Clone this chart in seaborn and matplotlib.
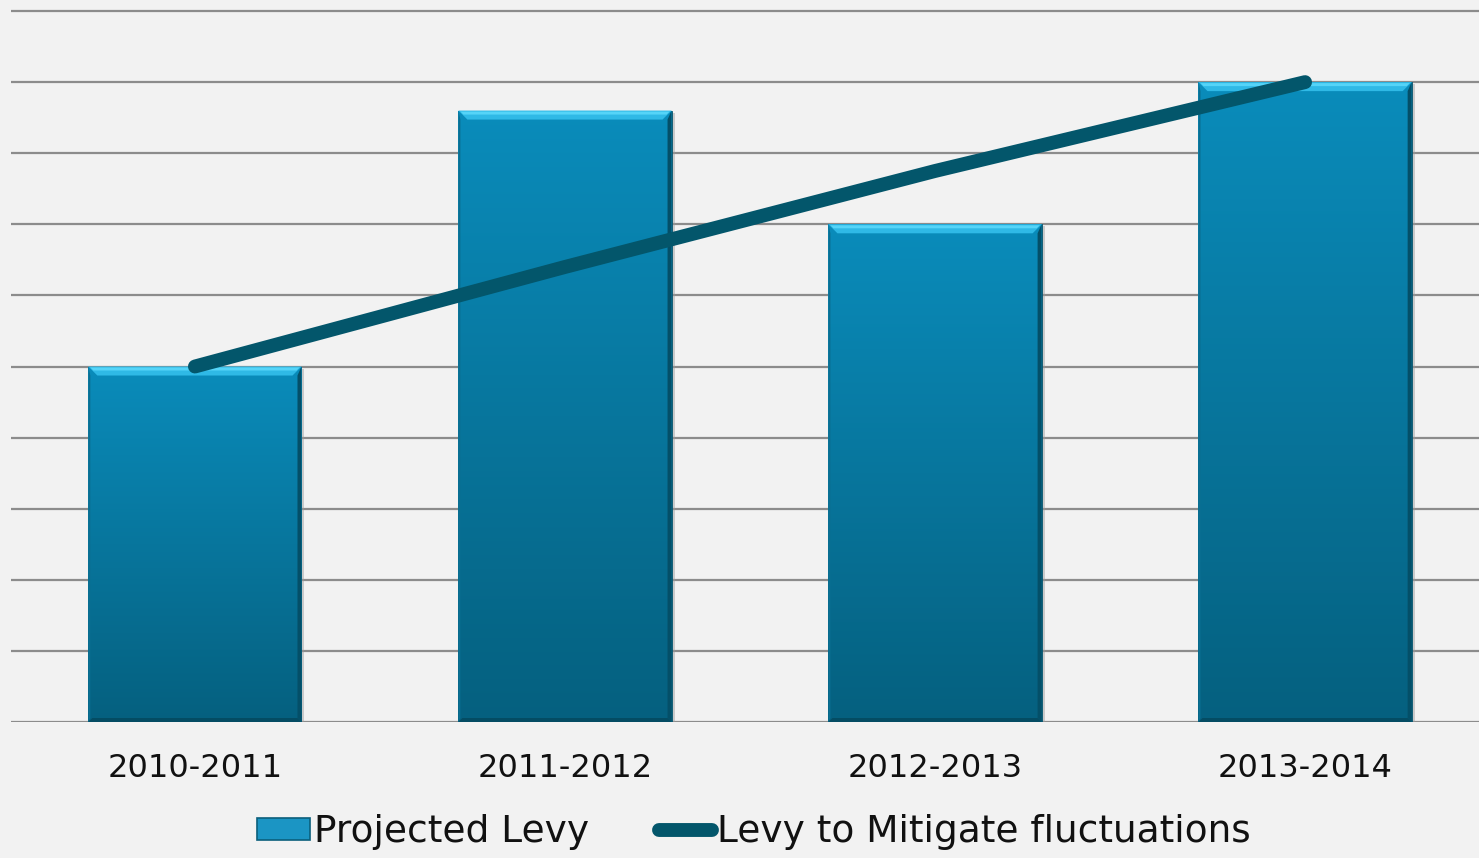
import numpy as np
import matplotlib
matplotlib.use("Agg")
import matplotlib.pyplot as plt
from matplotlib.patches import Polygon, Patch
from matplotlib.lines import Line2D
from matplotlib.colors import LinearSegmentedColormap
import seaborn as sns

# ---- data ----
periods = ["2010-2011", "2011-2012", "2012-2013", "2013-2014"]
projected_levy = [5.0, 8.6, 7.0, 9.0]
mitigated_levy = [5.0, 6.4, 7.75, 9.0]
legend_labels = ["Projected Levy", "Levy to Mitigate fluctuations"]

BG = "#f2f2f2"
GRID = "#8c8c8c"
LINE = "#03566b"

sns.set_theme(style="white")
plt.rcParams["font.family"] = ["DejaVu Sans"]

W, H, DPI = 1479, 858, 100
fig = plt.figure(figsize=(W / DPI, H / DPI), dpi=DPI, facecolor=BG)
ax = fig.add_axes([11 / W, 136 / H, 1 - 11 / W, 722 / H])
ax.set_facecolor(BG)

sns.barplot(x=periods, y=projected_levy, ax=ax, width=0.576,
            color="#0788b6", saturation=1, linewidth=0, zorder=2)
ax.set_xlim(-0.497, 3.47)
ax.set_ylim(0, 10.155)

# vertical gradient fill inside every bar plus bevelled edges
grad_cmap = LinearSegmentedColormap.from_list("bar", ["#05607f", "#0a8cbb"])
grad = np.linspace(0, 1, 256).reshape(-1, 1)
ax_w_px = W * (1 - 11 / W)
ax_h_px = 722
px_x = (ax.get_xlim()[1] - ax.get_xlim()[0]) / ax_w_px
px_y = (ax.get_ylim()[1] - ax.get_ylim()[0]) / ax_h_px

for bar in list(ax.patches):
    x0, y0 = bar.get_x(), bar.get_y()
    x1, y1 = x0 + bar.get_width(), y0 + bar.get_height()
    # soft shadow to the lower right
    ax.add_patch(Polygon([(x0 + 2 * px_x, y0 - 3 * px_y), (x1 + 3 * px_x, y0 - 3 * px_y),
                          (x1 + 3 * px_x, y1 - 2 * px_y), (x0 + 2 * px_x, y1 - 2 * px_y)],
                         closed=True, facecolor="#9a9a9a", alpha=0.45,
                         edgecolor="none", zorder=1.9))
    img = ax.imshow(grad, extent=(x0, x1, y0, y1), origin="lower",
                    cmap=grad_cmap, aspect="auto", zorder=2.1)
    img.set_clip_path(bar)
    b = 9
    bx, by = b * px_x, b * px_y
    sx, sy = 4 * px_x, 4 * px_y
    top = Polygon([(x0, y1), (x1, y1), (x1 - bx, y1 - by), (x0 + bx, y1 - by)],
                  closed=True, facecolor="#2fb9e6", edgecolor="none", zorder=2.3)
    top_hi = Polygon([(x0 + 2 * px_x, y1 - 1 * px_y), (x1 - 2 * px_x, y1 - 1 * px_y),
                      (x1 - 5 * px_x, y1 - 4 * px_y), (x0 + 5 * px_x, y1 - 4 * px_y)],
                     closed=True, facecolor="#55d4f8", edgecolor="none", zorder=2.35)
    right = Polygon([(x1, y1), (x1, y0), (x1 - sx, y0 + sy), (x1 - sx, y1 - by)],
                    closed=True, facecolor="#044f68", edgecolor="none", zorder=2.25)
    bottom = Polygon([(x0, y0), (x1, y0), (x1 - sx, y0 + sy), (x0 + sx, y0 + sy)],
                     closed=True, facecolor="#044c63", edgecolor="none", zorder=2.25)
    left = Polygon([(x0, y0), (x0, y1), (x0 + 2 * px_x, y1 - by), (x0 + 2 * px_x, y0 + sy)],
                   closed=True, facecolor="#0a6f92", edgecolor="none", zorder=2.25)
    for p in (right, bottom, left, top, top_hi):
        ax.add_patch(p)
    bar.set_edgecolor("#06526a")
    bar.set_linewidth(0.6)

# mitigated levy line, one point per period
sns.lineplot(x=np.arange(len(periods)), y=mitigated_levy, ax=ax, color=LINE,
             linewidth=10, solid_capstyle="round", solid_joinstyle="round",
             zorder=4, legend=False)

# axes styling
ax.set_yticks(np.arange(0, 11, 1))
ax.yaxis.grid(True, color=GRID, linewidth=1.6)
ax.xaxis.grid(False)
ax.set_axisbelow(True)
ax.tick_params(axis="y", left=False, labelleft=False)
ax.tick_params(axis="x", bottom=False, pad=16.5, labelsize=23, labelcolor="#111111")
for s in ax.spines.values():
    s.set_visible(False)
ax.set_xlabel("")
ax.set_ylabel("")

handles = [Patch(facecolor="#1b95c4", edgecolor="#0b5f7c", linewidth=1.2),
           Line2D([], [], color=LINE, linewidth=10, solid_capstyle="round")]
fig.legend(handles, legend_labels, loc="center", bbox_to_anchor=(0.5095, 0.030),
           ncol=2, frameon=False, fontsize=27, handlelength=1.41,
           handleheight=0.55, handletextpad=0.13, columnspacing=1.85,
           labelcolor="#111111")

fig.savefig("out.png", dpi=DPI, facecolor=BG)
